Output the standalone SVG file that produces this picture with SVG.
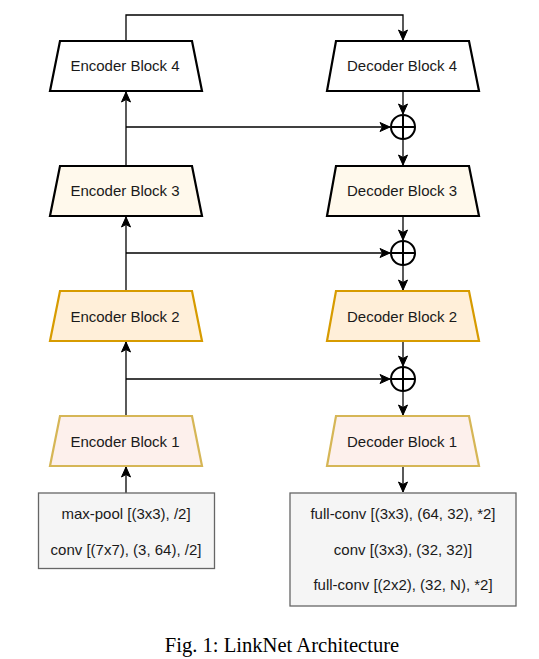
<svg xmlns="http://www.w3.org/2000/svg" width="539" height="659" viewBox="0 0 539 659">
<style>
.lbl{font-family:"Liberation Sans",Arial,sans-serif;font-size:15px;fill:#1a1a1a;text-anchor:middle}
.blk{stroke-width:2.2;stroke-linejoin:miter}
.c0{fill:#ffffff;stroke:#000000}
.c1{fill:#fff9ec;stroke:#000000}
.c2{fill:#ffefd9;stroke:#d79b00}
.c3{fill:#fdf0ec;stroke:#d6b656}
.box{fill:#f5f5f5;stroke:#666666;stroke-width:1.3}
.ln{fill:none;stroke:#000000;stroke-width:1.3}
.plus{fill:none;stroke:#000000;stroke-width:2}
.cap{font-family:"Liberation Serif","Times New Roman",serif;font-size:20.6px;fill:#000000;text-anchor:middle}
</style>
<defs>
<marker id="arr" markerUnits="userSpaceOnUse" markerWidth="12" markerHeight="12" viewBox="0 0 12 12" refX="11" refY="6" orient="auto">
<path d="M11,6 L1,1.5 L3.5,6 L1,10.5 Z" fill="#000000" stroke="#000000" stroke-width="1"/>
</marker>
</defs>
<g id="connectors">
<path class="ln" d="M126,41 V15 H403 V40" marker-end="url(#arr)"/>
<path class="ln" d="M126,166 V92" marker-end="url(#arr)"/>
<path class="ln" d="M126,127 H390" marker-end="url(#arr)"/>
<path class="ln" d="M126,291 V217" marker-end="url(#arr)"/>
<path class="ln" d="M126,253 H390" marker-end="url(#arr)"/>
<path class="ln" d="M126,416 V342" marker-end="url(#arr)"/>
<path class="ln" d="M126,379 H390" marker-end="url(#arr)"/>
<path class="ln" d="M126,493 V467" marker-end="url(#arr)"/>
<path class="ln" d="M403,91 V114" marker-end="url(#arr)"/>
<path class="ln" d="M403,139 V165" marker-end="url(#arr)"/>
<path class="ln" d="M403,216 V240" marker-end="url(#arr)"/>
<path class="ln" d="M403,265 V290" marker-end="url(#arr)"/>
<path class="ln" d="M403,341 V366" marker-end="url(#arr)"/>
<path class="ln" d="M403,391 V415" marker-end="url(#arr)"/>
<path class="ln" d="M403,466 V492" marker-end="url(#arr)"/>
</g>
<g id="sum3"><circle class="plus" cx="403" cy="127" r="12"/><path class="plus" d="M391,127 H415 M403,115 V139"/></g>
<g id="sum2"><circle class="plus" cx="403" cy="253" r="12"/><path class="plus" d="M391,253 H415 M403,241 V265"/></g>
<g id="sum1"><circle class="plus" cx="403" cy="379" r="12"/><path class="plus" d="M391,379 H415 M403,367 V391"/></g>
<g id="enc4"><polygon class="blk c0" points="60,41 192,41 202,91 50,91"/><text class="lbl" x="125" y="71">Encoder Block 4</text></g>
<g id="enc3"><polygon class="blk c1" points="60,166 192,166 202,216 50,216"/><text class="lbl" x="125" y="196">Encoder Block 3</text></g>
<g id="enc2"><polygon class="blk c2" points="60,291 192,291 202,341 50,341"/><text class="lbl" x="125" y="321.5">Encoder Block 2</text></g>
<g id="enc1"><polygon class="blk c3" points="60,416 192,416 202,466 50,466"/><text class="lbl" x="125" y="446.5">Encoder Block 1</text></g>
<g id="dec4"><polygon class="blk c0" points="336,41 469,41 479,91 327,91"/><text class="lbl" x="402" y="71">Decoder Block 4</text></g>
<g id="dec3"><polygon class="blk c1" points="336,166 469,166 479,216 327,216"/><text class="lbl" x="402" y="196">Decoder Block 3</text></g>
<g id="dec2"><polygon class="blk c2" points="336,291 469,291 479,341 327,341"/><text class="lbl" x="402" y="321.5">Decoder Block 2</text></g>
<g id="dec1"><polygon class="blk c3" points="336,416 469,416 479,466 327,466"/><text class="lbl" x="402" y="446.5">Decoder Block 1</text></g>
<g id="input"><rect class="box" x="38.5" y="493" width="176" height="75.5"/>
<text class="lbl" x="126" y="518.5">max-pool [(3x3), /2]</text>
<text class="lbl" x="126" y="554.5">conv [(7x7), (3, 64), /2]</text></g>
<g id="output"><rect class="box" x="290" y="493" width="226" height="113"/>
<text class="lbl" x="403" y="518.5">full-conv [(3x3), (64, 32), *2]</text>
<text class="lbl" x="403" y="554.5">conv [(3x3), (32, 32)]</text>
<text class="lbl" x="403" y="590">full-conv [(2x2), (32, N), *2]</text></g>
<text class="cap" x="282" y="651.5">Fig. 1: LinkNet Architecture</text>
</svg>
